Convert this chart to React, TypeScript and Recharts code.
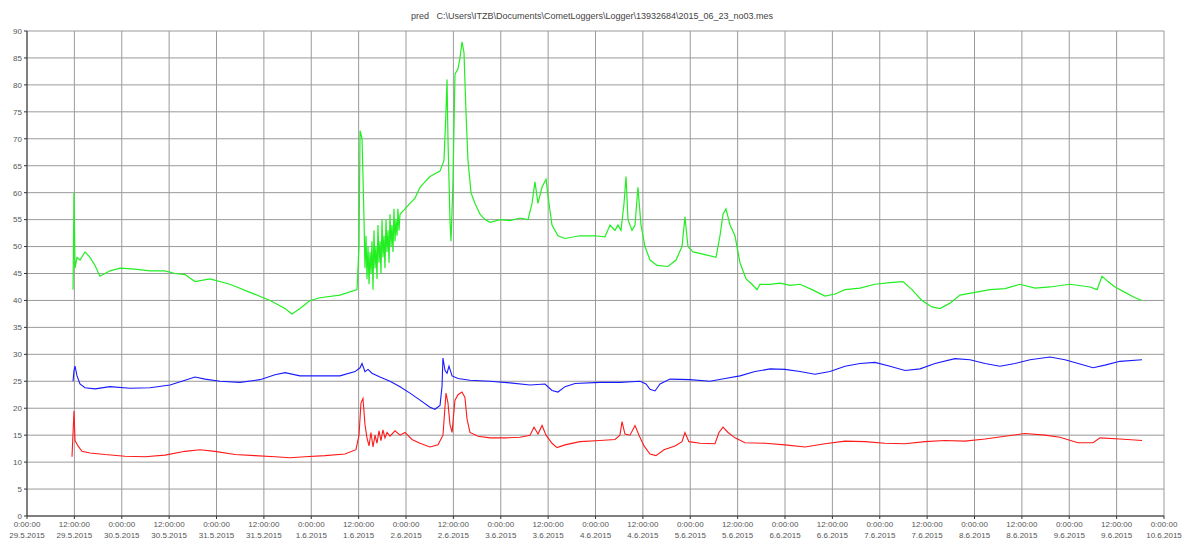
import { LineChart, Line, XAxis, YAxis, CartesianGrid } from "recharts";

// --- DATA (time in days since 29.5.2015 0:00) ---
const greenT = [
  0.486, 0.496, 0.507, 0.528, 0.559, 0.612, 0.665, 0.718, 0.77, 0.823, 0.876, 0.982, 1.14, 1.298, 1.456,
  1.562, 1.668, 1.773, 1.931, 2.142, 2.354, 2.565, 2.723, 2.797, 2.881, 2.987, 3.092, 3.303, 3.483, 3.504,
  3.515, 3.536, 3.557, 3.567, 3.578, 3.588, 3.599, 3.61, 3.62, 3.631, 3.641, 3.652, 3.662, 3.673, 3.683,
  3.694, 3.704, 3.715, 3.726, 3.736, 3.747, 3.757, 3.768, 3.778, 3.789, 3.799, 3.81, 3.821, 3.831, 3.842,
  3.852, 3.863, 3.873, 3.884, 3.894, 3.905, 3.915, 3.926, 3.937, 3.989, 4.042, 4.095, 4.148, 4.2, 4.253,
  4.306, 4.359, 4.401, 4.422, 4.433, 4.443, 4.464, 4.475, 4.496, 4.517, 4.549, 4.57, 4.591, 4.612, 4.633,
  4.654, 4.686, 4.728, 4.781, 4.834, 4.887, 4.992, 5.098, 5.203, 5.288, 5.33, 5.361, 5.393, 5.435, 5.478,
  5.509, 5.541, 5.604, 5.678, 5.836, 5.995, 6.1, 6.153, 6.206, 6.237, 6.269, 6.301, 6.322, 6.343, 6.385,
  6.417, 6.448, 6.48, 6.522, 6.575, 6.649, 6.765, 6.85, 6.913, 6.944, 6.976, 7.029, 7.156, 7.272, 7.314,
  7.346, 7.377, 7.42, 7.472, 7.525, 7.589, 7.652, 7.705, 7.736, 7.842, 7.947, 8.053, 8.158, 8.285, 8.422,
  8.528, 8.633, 8.792, 8.95, 9.108, 9.245, 9.34, 9.445, 9.551, 9.636, 9.741, 9.847, 10.005, 10.164, 10.322,
  10.48, 10.639, 10.797, 11.008, 11.219, 11.293, 11.346, 11.409, 11.483, 11.588, 11.694, 11.768,
];
const greenV = [
  42, 60, 46, 48, 47.5, 49, 48, 46.5, 44.5, 45, 45.5, 46, 45.8, 45.5, 45.5,
  45, 44.8, 43.5, 44, 43, 41.5, 40, 38.5, 37.5, 38.5, 40, 40.5, 41, 42, 50,
  71.5, 70, 55, 46, 52, 44, 50, 43, 49, 45, 51, 42, 53, 46, 50,
  44, 54, 47, 51, 45, 55, 48, 52, 46, 55, 49, 53, 47, 56, 50,
  54, 49, 57, 51, 55, 52, 57, 53, 56, 57, 58, 59, 61, 62, 63,
  63.5, 64, 66, 75, 81, 70, 55, 51, 62, 82, 83, 85, 88, 86, 75,
  66, 60, 58, 56, 55, 54.5, 55, 54.8, 55.3, 55, 58, 62, 58, 61, 62.5,
  58, 54, 52, 51.5, 52, 52, 51.8, 54, 53, 54, 53, 58, 63, 55, 53,
  54, 61, 54, 50, 47.5, 46.5, 46.3, 47.5, 50, 55.5, 50, 49, 48.5, 48, 52,
  56, 57, 54, 52, 47, 44, 43, 42, 43, 43, 43.2, 42.8, 43, 42, 40.8,
  41.2, 42, 42.3, 43, 43.3, 43.5, 42, 40, 38.8, 38.5, 39.5, 41, 41.5, 42, 42.2,
  43, 42.3, 42.5, 43, 42.5, 42, 44.5, 43.5, 42.5, 41.5, 40.5, 40,
];

const blueT = [
  0.486, 0.496, 0.507, 0.528, 0.559, 0.612, 0.718, 0.876, 1.087, 1.298, 1.509, 1.668, 1.773, 1.879, 2.037,
  2.248, 2.459, 2.617, 2.723, 2.881, 3.092, 3.303, 3.462, 3.515, 3.536, 3.567, 3.599, 3.641, 3.725, 3.831,
  3.937, 4.042, 4.148, 4.253, 4.306, 4.359, 4.38, 4.39, 4.412, 4.433, 4.454, 4.486, 4.549, 4.675, 4.887,
  5.098, 5.309, 5.467, 5.541, 5.604, 5.678, 5.784, 6.047, 6.259, 6.47, 6.533, 6.575, 6.628, 6.681, 6.786,
  6.997, 7.208, 7.367, 7.525, 7.683, 7.842, 8.0, 8.158, 8.316, 8.475, 8.633, 8.792, 8.95, 9.108, 9.266,
  9.425, 9.583, 9.794, 9.952, 10.111, 10.269, 10.428, 10.586, 10.797, 10.955, 11.113, 11.251, 11.377,
  11.535, 11.768,
];
const blueV = [
  25, 27, 27.8, 26, 24.5, 23.8, 23.6, 24, 23.7, 23.8, 24.3, 25.2, 25.8, 25.4, 25,
  24.8, 25.3, 26.2, 26.6, 26, 26, 26, 26.8, 27.5, 28.3, 26.8, 27.2, 26.5, 25.8, 25,
  24, 22.8, 21.5, 20.2, 19.8, 20.5, 24, 29.3, 27, 26.5, 27.8, 26, 25.5, 25.2, 25,
  24.7, 24.3, 24.5, 23.3, 23, 24, 24.6, 24.8, 24.8, 25, 24.5, 23.5, 23.2, 24.5, 25.4,
  25.3, 25, 25.5, 26, 26.8, 27.3, 27.2, 26.8, 26.3, 26.8, 27.8, 28.3, 28.5, 27.8, 27,
  27.3, 28.3, 29.2, 29, 28.3, 27.8, 28.3, 29, 29.5, 29, 28.2, 27.5, 28,
  28.7, 29,
];

const redT = [
  0.475, 0.486, 0.496, 0.507, 0.538, 0.58, 0.665, 0.823, 1.034, 1.245, 1.456, 1.668, 1.826, 1.984, 2.195,
  2.406, 2.617, 2.776, 2.934, 3.145, 3.356, 3.472, 3.504, 3.525, 3.546, 3.567, 3.588, 3.61, 3.63, 3.652,
  3.673, 3.694, 3.715, 3.736, 3.757, 3.778, 3.8, 3.831, 3.884, 3.937, 3.989, 4.063, 4.148, 4.253, 4.338,
  4.39, 4.422, 4.443, 4.464, 4.486, 4.517, 4.549, 4.591, 4.622, 4.644, 4.675, 4.76, 4.887, 5.045, 5.203,
  5.309, 5.351, 5.393, 5.436, 5.478, 5.541, 5.594, 5.678, 5.836, 6.047, 6.206, 6.258, 6.28, 6.311, 6.364,
  6.417, 6.459, 6.512, 6.575, 6.638, 6.723, 6.839, 6.913, 6.944, 6.986, 7.103, 7.261, 7.303, 7.346, 7.399,
  7.472, 7.578, 7.789, 8.0, 8.211, 8.422, 8.633, 8.844, 9.055, 9.266, 9.477, 9.688, 9.9, 10.111, 10.322,
  10.533, 10.744, 10.902, 11.092, 11.251, 11.325, 11.535, 11.768,
];
const redV = [
  11, 15.5, 19.5, 14, 13, 12, 11.7, 11.4, 11.1, 11, 11.3, 12, 12.3, 12, 11.4,
  11.2, 11, 10.8, 11, 11.2, 11.5, 12.3, 15, 21, 21.8, 17, 14.5, 13, 15.5, 12.8,
  15, 13.5, 15.8, 14, 16, 14.5, 15.5, 14.8, 15.8, 15, 15.5, 14.2, 13.5, 12.8, 13.2,
  15, 22.8, 21, 17, 15.5, 21.5, 22.5, 23, 22, 18, 15.5, 14.8, 14.5, 14.5, 14.6,
  15, 16.5, 15.2, 16.8, 15, 13.5, 12.7, 13.2, 13.8, 14, 14.2, 15, 17.5, 15.2, 15,
  16.8, 15, 13, 11.5, 11.2, 12.3, 13, 13.8, 15.5, 13.8, 13.5, 13.4, 15.5, 16.5, 15.5,
  14.5, 13.6, 13.5, 13.2, 12.8, 13.4, 13.9, 13.8, 13.5, 13.4, 13.8, 14, 13.9, 14.3, 14.8,
  15.3, 15, 14.6, 13.6, 13.6, 14.5, 14.3, 14,
];

// tick labels
const yTicks = [0, 5, 10, 15, 20, 25, 30, 35, 40, 45, 50, 55, 60, 65, 70, 75, 80, 85, 90];
const dayLabels = [
  "29.5.2015", "30.5.2015", "31.5.2015", "1.6.2015", "2.6.2015", "3.6.2015", "4.6.2015",
  "5.6.2015", "6.6.2015", "7.6.2015", "8.6.2015", "9.6.2015", "10.6.2015",
];
const hourLabels = ["0:00:00", "12:00:00"];
const xTicks = [0, 0.5, 1, 1.5, 2, 2.5, 3, 3.5, 4, 4.5, 5, 5.5, 6, 6.5, 7, 7.5, 8, 8.5, 9, 9.5, 10, 10.5, 11, 11.5, 12];

const title = "pred   C:\\Users\\ITZB\\Documents\\CometLoggers\\Logger\\13932684\\2015_06_23_no03.mes";

const toRows = (t: number[], v: number[]) => t.map((x, i) => ({ t: x, v: v[i] }));

const FONT = "'Liberation Sans', Arial, sans-serif";

const XTick = (props: any) => {
  const { x, y, payload } = props;
  const val: number = payload.value;
  const day = Math.floor(val + 1e-6);
  const half = Math.round((val - day) * 2);
  return (
    <g transform={`translate(${x},${y})`}>
      <text x={0} y={6} textAnchor="middle" fontSize={8} fill="#555" fontFamily={FONT}>
        {hourLabels[half]}
      </text>
      <text x={0} y={17} textAnchor="middle" fontSize={8} fill="#555" fontFamily={FONT}>
        {dayLabels[day]}
      </text>
    </g>
  );
};

export default function App() {
  return (
    <div style={{ position: "relative", width: 1184, height: 540, background: "#fff" }}>
      <style>{"body{margin:0}"}</style>
      <div
        style={{
          position: "absolute",
          top: 11,
          left: 0,
          width: 1184,
          textAlign: "center",
          fontFamily: FONT,
          fontSize: 9,
          color: "#444",
          whiteSpace: "pre",
        }}
      >
        {title}
      </div>
      <LineChart width={1184} height={540} margin={{ top: 31, right: 20, left: 0, bottom: 0 }}>
        <CartesianGrid stroke="#9a9a9a" strokeWidth={1} />
        <XAxis
          type="number"
          dataKey="t"
          domain={[0, 12]}
          ticks={xTicks}
          interval={0}
          height={24}
          tick={<XTick />}
          tickSize={3}
          stroke="#333"
          allowDataOverflow
        />
        <YAxis
          type="number"
          domain={[0, 90]}
          ticks={yTicks}
          interval={0}
          width={27}
          tickSize={3}
          stroke="#333"
          tick={{ fontSize: 8, fill: "#555", fontFamily: FONT }}
        />
        <Line data={toRows(greenT, greenV)} dataKey="v" stroke="#22ee22" strokeWidth={1.2} dot={false} isAnimationActive={false} />
        <Line data={toRows(blueT, blueV)} dataKey="v" stroke="#1a1aff" strokeWidth={1.1} dot={false} isAnimationActive={false} />
        <Line data={toRows(redT, redV)} dataKey="v" stroke="#ff1a1a" strokeWidth={1.1} dot={false} isAnimationActive={false} />
      </LineChart>
    </div>
  );
}
